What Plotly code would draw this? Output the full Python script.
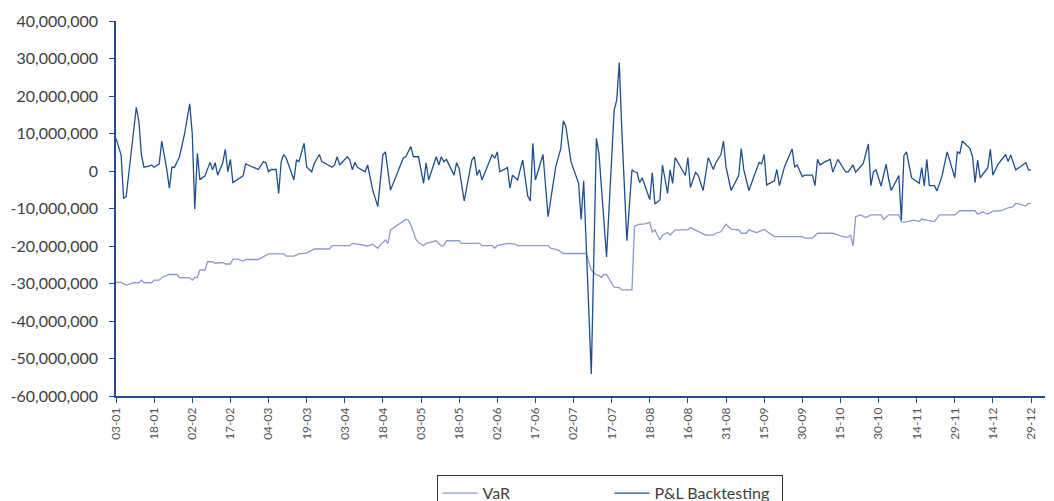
import pandas as pd
import plotly.graph_objects as go

YEAR_START = "2011-01-01"

# P&L backtesting: day of year, value in millions
pnl_day = [3, 5, 6, 7, 11, 12, 13, 14, 16, 17, 18, 20, 21, 22, 23, 24, 25, 26, 28, 30,
           32, 33, 34, 35, 36, 38, 39, 40, 41, 42, 43, 45, 46, 47, 48, 49, 53, 54, 55, 59,
           61, 62, 63, 64, 66, 67, 68, 69, 70, 73, 74, 75, 77, 78, 80, 81, 83, 84, 88, 89,
           90, 91, 94, 95, 96, 97, 98, 101, 102, 104, 106, 108, 109, 111, 116, 117, 119, 120, 122, 124,
           125, 126, 129, 130, 131, 132, 133, 136, 137, 138, 140, 143, 144, 145, 146, 147, 151, 152, 153, 154,
           157, 158, 159, 161, 162, 163, 165, 166, 167, 168, 171, 173, 176, 178, 179, 180, 182, 185, 186, 187,
           190, 192, 193, 196, 199, 200, 201, 202, 204, 206, 207, 208, 209, 210, 213, 214, 215, 217, 218, 220,
           221, 222, 223, 227, 228, 229, 231, 232, 234, 236, 238, 239, 241, 242, 243, 245, 248, 249, 250, 252,
           256, 257, 258, 259, 262, 263, 264, 266, 269, 270, 271, 273, 274, 277, 278, 279, 280, 282, 284, 285,
           287, 289, 290, 291, 293, 294, 297, 299, 300, 301, 302, 304, 306, 307, 308, 311, 312, 313, 314, 316,
           319, 320, 321, 322, 323, 325, 326, 328, 330, 333, 334, 335, 336, 339, 340, 341, 342, 343, 346, 347,
           348, 350, 353, 354, 355, 357, 361, 362, 363]
pnl_musd = [8.7, 4.3, -7.3, -6.8, 17.0, 13.2, 4.3, 1.0, 1.3, 1.6, 1.0, 1.9, 8.0, 4.3, 0.3, -4.6, 1.0, 1.0, 3.8, 10.0,
            17.9, 10.0, -10.2, 4.7, -2.3, -1.3, 0.3, 2.3, 0.3, 2.2, -1.1, 2.2, 5.8, -0.2, 3.1, -3.1, -1.3, 1.9, 1.6, 0.4,
            2.5, 2.2, -0.2, 0.4, 0.4, -6.0, 2.5, 4.4, 3.4, -2.4, 2.9, 2.5, 7.4, 1.1, -0.2, 2.0, 4.4, 2.5, 1.0, 1.6,
            3.8, 1.6, 3.8, 2.9, 0.3, 2.3, 1.0, -0.2, 1.6, -5.1, -9.5, 4.3, 5.1, -5.1, 3.4, 3.8, 6.5, 3.8, 3.8, -3.3,
            2.2, -2.4, 3.8, 1.6, 3.8, 2.5, 3.1, -1.1, 2.2, 0.7, -8.0, 2.9, 3.8, -1.1, 0.3, -2.4, 4.4, 3.4, 5.1, -0.2,
            0.9, -4.6, -1.1, -2.4, 0.3, 2.9, -6.7, -8.0, 7.4, -2.4, 4.4, -12.2, 1.1, 6.0, 13.4, 11.8, 2.5, -3.3, -12.9, -2.6,
            -54.1, 8.7, 4.7, -22.9, 16.3, 18.9, 28.9, 10.9, -18.6, 0.3, -0.2, -0.4, -3.1, -1.8, -7.6, -0.4, -8.8, -7.7, 1.6, -6.0,
            0.3, -3.3, 3.6, -1.2, 3.6, -4.4, -0.4, -1.1, -5.2, 3.6, 0.4, 2.2, 4.4, 8.0, 1.1, -5.2, -1.2, 6.0, 0.3, -5.2,
            2.3, 1.9, 4.4, -3.7, -2.6, 0.4, -3.9, 1.1, 5.9, 1.1, 1.6, -1.5, -1.1, -1.1, -3.9, 3.1, 1.6, 2.5, 3.1, -0.3,
            3.1, 1.1, -0.2, -0.3, 1.6, -0.3, 2.0, 7.2, -3.9, -0.2, 0.3, -4.0, 1.8, -2.2, -5.2, -1.2, -13.1, 4.1, 5.1, -1.8,
            -3.3, 0.9, -4.0, 3.1, -3.9, -3.9, -5.3, -1.3, 5.1, -1.8, 5.1, 4.7, 8.0, 6.0, 3.8, -3.1, 2.9, -1.8, 0.9, 5.8,
            -1.1, 1.8, 4.4, 2.5, 4.3, 0.3, 2.2, 0.3, 0.3]

# VaR: day of year, value in millions
var_day = [3, 5, 7, 10, 12, 13, 14, 17, 18, 20, 21, 24, 27, 28, 32, 33, 34, 35, 36, 38,
           39, 41, 42, 45, 46, 48, 49, 51, 53, 54, 59, 62, 63, 69, 70, 73, 75, 78, 81, 87,
           88, 95, 96, 98, 102, 104, 106, 107, 109, 110, 111, 117, 118, 119, 121, 122, 124, 125, 129, 131,
           132, 133, 138, 139, 146, 147, 151, 152, 153, 157, 160, 161, 173, 174, 177, 179, 188, 190, 192, 193,
           194, 195, 196, 199, 201, 202, 206, 207, 209, 211, 213, 214, 215, 217, 218, 220, 221, 223, 228, 229,
           231, 232, 235, 238, 239, 241, 243, 245, 248, 249, 251, 252, 255, 258, 260, 262, 273, 274, 277, 279,
           285, 287, 289, 291, 292, 293, 294, 296, 298, 300, 304, 305, 307, 311, 312, 313, 315, 317, 319, 320,
           322, 325, 327, 333, 335, 341, 342, 344, 346, 348, 351, 354, 356, 357, 361, 362, 363]
var_musd = [-29.7, -29.7, -30.4, -29.8, -29.8, -29.1, -29.8, -29.8, -29.1, -29.1, -28.4, -27.6, -27.6, -28.4, -28.5, -29.1, -28.4, -28.4, -26.4, -26.4,
            -24.2, -24.2, -24.6, -24.4, -24.8, -24.8, -23.5, -23.5, -24.0, -23.6, -23.6, -22.4, -22.1, -22.1, -22.7, -22.7, -22.1, -21.9, -20.8, -20.8,
            -19.9, -19.9, -19.3, -19.5, -20.0, -19.5, -20.6, -19.7, -18.4, -19.3, -15.7, -12.9, -13.1, -14.4, -18.2, -19.1, -19.9, -19.3, -18.6, -20.0,
            -19.9, -18.6, -18.6, -19.3, -19.3, -19.9, -19.9, -20.6, -19.9, -19.3, -19.5, -19.9, -19.9, -20.6, -21.1, -22.0, -22.0, -26.4, -27.7, -27.9,
            -28.4, -27.6, -27.6, -31.0, -31.1, -31.7, -31.7, -14.7, -14.2, -14.1, -13.7, -16.3, -15.7, -18.4, -17.1, -16.4, -17.1, -15.7, -15.7, -15.1,
            -15.7, -16.0, -17.1, -17.1, -16.6, -16.2, -14.2, -15.5, -15.7, -16.6, -16.6, -15.7, -16.4, -15.6, -16.6, -17.5, -17.5, -17.9, -17.9, -16.6,
            -16.6, -17.1, -17.5, -17.7, -17.1, -20.0, -12.2, -11.7, -12.4, -11.7, -11.7, -12.9, -11.7, -11.7, -13.5, -13.7, -13.5, -13.1, -13.5, -12.8,
            -13.1, -13.5, -11.7, -11.7, -10.6, -10.6, -11.5, -10.9, -11.5, -10.7, -10.6, -9.8, -9.5, -8.6, -9.3, -8.6, -8.8]

tick_labels = ["03-01", "18-01", "02-02", "17-02", "04-03", "19-03", "03-04", "18-04", "03-05",
               "18-05", "02-06", "17-06", "02-07", "17-07", "18-08", "16-08", "31-08", "15-09",
               "30-09", "15-10", "30-10", "14-11", "29-11", "14-12", "29-12"]
y_ticks = [40000000, 30000000, 20000000, 10000000, 0, -10000000, -20000000,
           -30000000, -40000000, -50000000, -60000000]

base = pd.Timestamp(YEAR_START)
to_date = lambda days: [base + pd.Timedelta(days=d - 1) for d in days]
pnl_x = to_date(pnl_day)
var_x = to_date(var_day)
pnl_y = [v * 1e6 for v in pnl_musd]
var_y = [v * 1e6 for v in var_musd]

first_tick = pd.Timestamp("2011-01-03")
tick_vals = [first_tick + pd.Timedelta(days=15 * i) for i in range(len(tick_labels))]

fig = go.Figure()
fig.add_trace(go.Scatter(x=var_x, y=var_y, mode="lines", name="VaR",
                         line=dict(color="#8a9ad0", width=1.3)))
fig.add_trace(go.Scatter(x=pnl_x, y=pnl_y, mode="lines", name="P&L Backtesting",
                         line=dict(color="#1d4f8f", width=1.3)))

axis_color = "#1f4f8f"
fig.update_layout(
    width=1046, height=493,
    margin=dict(l=108, r=9, t=13, b=105, autoexpand=False),
    paper_bgcolor="white", plot_bgcolor="white",
    font=dict(family="Lato, 'Open Sans', sans-serif", color="#404040"),
    showlegend=True,
    legend=dict(orientation="h", x=0.345, y=-0.211, xanchor="left", yanchor="top",
                bordercolor="#333333", borderwidth=1, bgcolor="white",
                font=dict(size=16, color="#404040"),
                entrywidth=122, entrywidthmode="pixels", itemwidth=35),
    xaxis=dict(type="date",
               range=[first_tick, first_tick + pd.Timedelta(hours=365.5 * 24)],
               tickmode="array", tickvals=tick_vals, ticktext=tick_labels,
               tickangle=-90, tickfont=dict(size=12, color="#555555"),
               showgrid=False, zeroline=False, showline=True, linecolor=axis_color,
               linewidth=1.5, ticks="outside", ticklen=5, tickcolor=axis_color),
    yaxis=dict(range=[-60000000, 40000000], tickmode="array", tickvals=y_ticks,
               ticktext=[f"{v:,}" for v in y_ticks],
               tickfont=dict(size=16, color="#404040"),
               showgrid=False, zeroline=False, showline=True, linecolor=axis_color,
               linewidth=1.5, ticks="outside", ticklen=5, tickcolor=axis_color,
               ticklabelstandoff=8),
)

fig.write_html("out.html")
